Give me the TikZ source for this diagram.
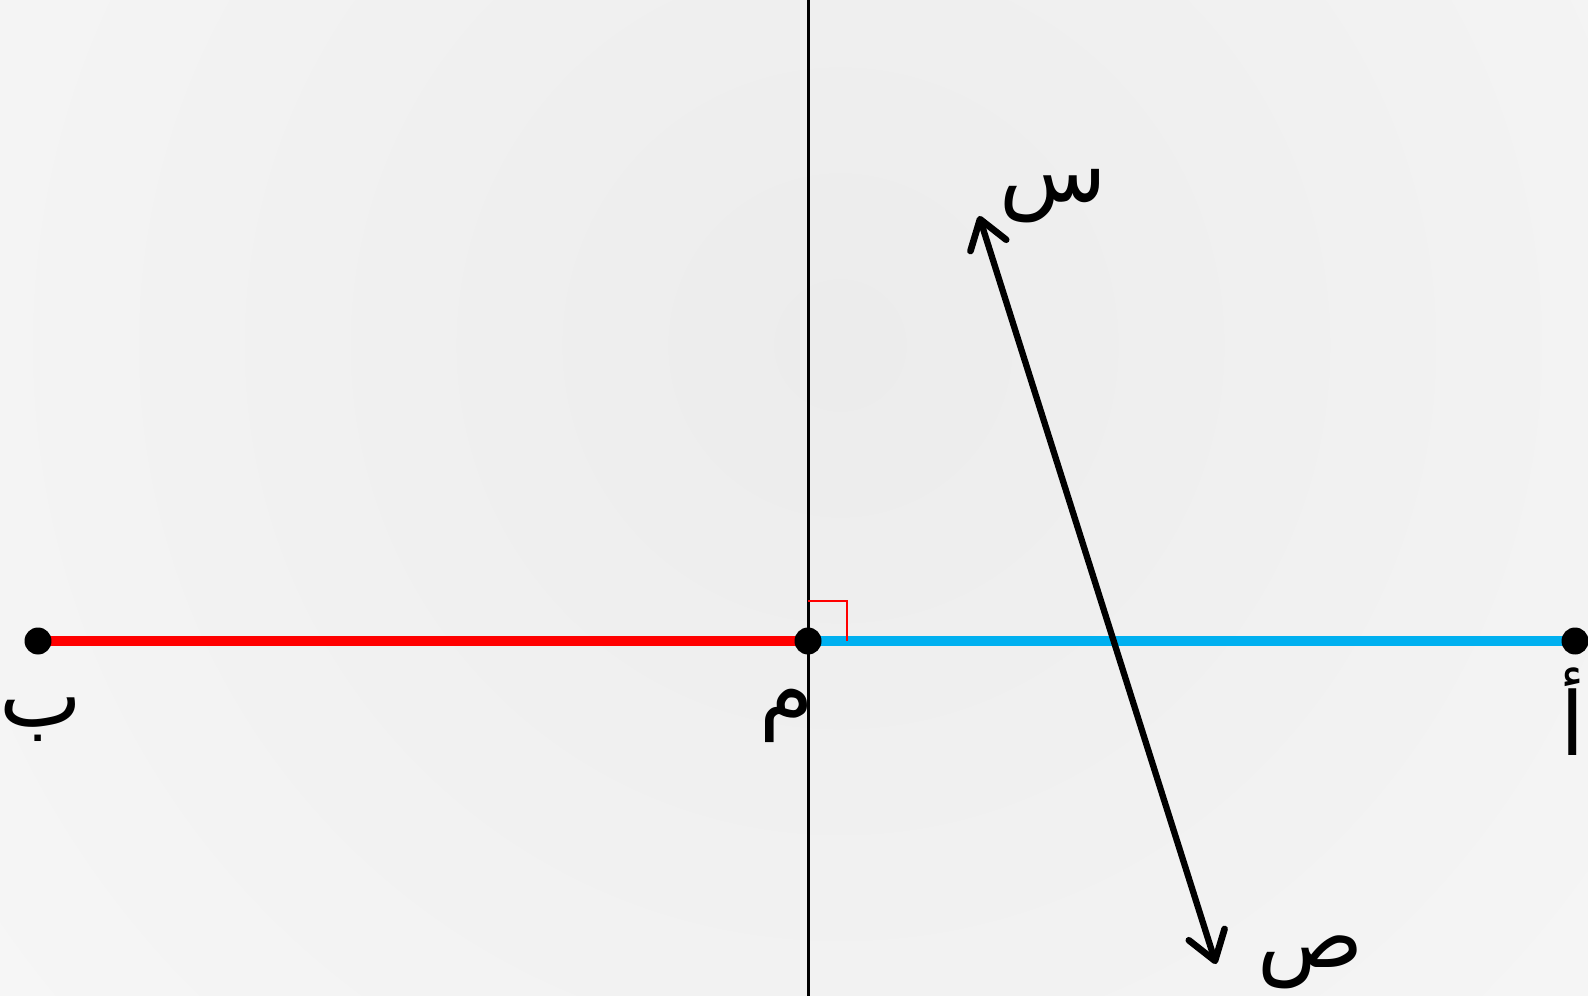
\documentclass[tikz,border=0pt]{standalone}
\usepackage{fontspec}
\usetikzlibrary{calc,arrows.meta,positioning}
\TeXXeTstate=1
\newfontfamily\arabicfont[Script=Arabic]{DejaVu Sans}
\definecolor{SegRed}{rgb}{1, 0, 0}
\definecolor{SegBlue}{rgb}{0, 0.69, 0.94}
\definecolor{BackIn}{rgb}{0.925, 0.925, 0.925}
\definecolor{BackOut}{rgb}{0.975, 0.975, 0.975}

\begin{document}
\begin{tikzpicture}[
    x=0.02cm, y=-0.02cm,
    lbl/.style={font=\arabicfont\fontsize{50}{54}\selectfont, inner sep=0pt},
    seg/.style={line width=5.2pt},
    dot/.style={circle, fill=black, inner sep=0pt, minimum size=0.54cm},
    barb/.tip={Straight Barb[length=5.5mm,width=7.5mm,line width=3.8pt,round]},
]

% fondo
\fill[BackOut] (0,0) rectangle (1588,996);
\begin{scope}
\clip (0,0) rectangle (1588,996);
\shade[inner color=BackIn, outer color=BackOut] (840,345) circle (1350);
\end{scope}
\useasboundingbox (0,0) rectangle (1588,996);

\coordinate (B) at (38,641);
\coordinate (M) at (808,641);
\coordinate (A) at (1575,641);
\coordinate (top) at (808,0);
\coordinate (bot) at (808,996);
\coordinate (S) at (979,216);
\coordinate (P) at (1216,964);

% mediatriz
\draw[line width=1.7pt] (top) -- (bot);

% segmento
\draw[seg, SegRed] (B) -- (M);
\draw[seg, SegBlue] (M) -- (A);

% angulo recto
\draw[SegRed, line width=1.1pt] ([yshift=0.8cm]M) -| ([xshift=0.78cm]M);

% recta sp
\draw[barb-barb, line width=3.6pt] (S) -- (P);

\node[dot] (dB) at (B) {};
\node[dot] (dM) at (M) {};
\node[dot] (dA) at (A) {};

\node[lbl] (lB) at (41,720) {\beginR ب\endR};
\node[lbl] (lM) at (787,716) {\beginR م\endR};
\node[lbl] (lA) at (1573,712) {\beginR أ\endR};
\node[lbl] (lS) at (1053,196) {\beginR س\endR};
\node[lbl] (lP) at (1311,962) {\beginR ص\endR};

\end{tikzpicture}
\end{document}
